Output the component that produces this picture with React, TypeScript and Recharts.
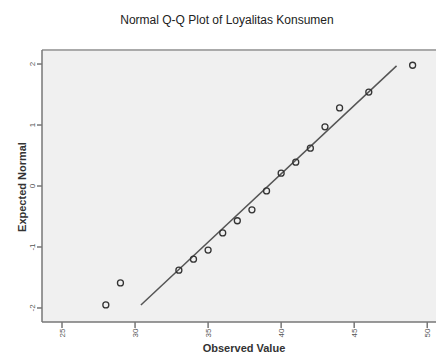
import React from "react";
import { ScatterChart, Scatter, XAxis, YAxis, ReferenceLine } from "recharts";

const observed = [28, 29, 33, 34, 35, 36, 37, 38, 39, 40, 41, 42, 43, 44, 46, 49];
const expectedNormal = [-1.95, -1.59, -1.38, -1.2, -1.05, -0.77, -0.57, -0.39, -0.08, 0.21, 0.39, 0.62, 0.97, 1.28, 1.54, 1.98];
const lineX = [30.4, 47.9];
const lineY = [-1.95, 1.97];
const xTicks = [25, 30, 35, 40, 45, 50];
const yTicks = [-2, -1, 0, 1, 2];

const points = observed.map((x, i) => ({ x, y: expectedNormal[i] }));
const linePts = lineX.map((x, i) => ({ x, y: lineY[i] }));

const FONT = "Arial, 'Liberation Sans', sans-serif";

const XTick = (props: any) => {
  const { x, y, payload } = props;
  return (
    <text x={0} y={0} transform={`translate(${x},${y + 3}) rotate(-90)`} textAnchor="middle" dominantBaseline="central" fontSize={8} fill="#555" fontFamily={FONT}>
      {payload.value}
    </text>
  );
};
const YTick = (props: any) => {
  const { x, y, payload } = props;
  return (
    <text x={0} y={0} transform={`translate(${x - 3},${y}) rotate(-90)`} textAnchor="middle" dominantBaseline="central" fontSize={8} fill="#555" fontFamily={FONT}>
      {payload.value}
    </text>
  );
};

const Circle = (props: any) => {
  const { cx, cy } = props;
  return <circle cx={cx} cy={cy} r={3} fill="none" stroke="#333" strokeWidth={1.3} />;
};
const Empty = () => <g />;

export default function App() {
  return (
    <div style={{ position: "absolute", left: 0, top: 0, width: 436, height: 356, background: "#fff" }}>
      <svg width={436} height={356} style={{ position: "absolute", left: 0, top: 0 }}>
        <text x={227} y={24} textAnchor="middle" fontSize={12} fill="#222" fontFamily={FONT}>
          Normal Q-Q Plot of Loyalitas Konsumen
        </text>
        <text x={244} y={352} textAnchor="middle" fontSize={11} fontWeight="bold" fill="#333" fontFamily={FONT}>
          Observed Value
        </text>
        <text x={0} y={0} transform="translate(22,187) rotate(-90)" textAnchor="middle" dominantBaseline="central" fontSize={11} fontWeight="bold" fill="#333" fontFamily={FONT}>
          Expected Normal
        </text>
      </svg>
      <div style={{ position: "absolute", left: 0, top: 0 }}>
        <ScatterChart width={436} height={356} margin={{ top: 50, right: 0, bottom: 0, left: 0 }}>
          <rect x={42} y={50} width={394} height={272} fill="#f0f0f0" />
          <XAxis
            type="number"
            dataKey="x"
            domain={[23.63, 50.6]}
            ticks={xTicks}
            height={34}
            allowDataOverflow
            stroke="#777"
            strokeWidth={1.5}
            tickSize={6}
            tickLine={{ stroke: "#777" }}
            tick={<XTick />}
            interval={0}
          />
          <YAxis
            type="number"
            dataKey="y"
            domain={[-2.23, 2.23]}
            ticks={yTicks}
            width={42}
            allowDataOverflow
            stroke="#777"
            strokeWidth={1.5}
            tickSize={5}
            tickLine={{ stroke: "#777" }}
            tick={<YTick />}
            interval={0}
          />
          <ReferenceLine y={2.23} stroke="#aaa" strokeWidth={2} ifOverflow="visible" />
          <Scatter data={linePts} line={{ stroke: "#555", strokeWidth: 1.5 }} shape={<Empty />} isAnimationActive={false} />
          <Scatter data={points} shape={<Circle />} isAnimationActive={false} />
        </ScatterChart>
      </div>
    </div>
  );
}
